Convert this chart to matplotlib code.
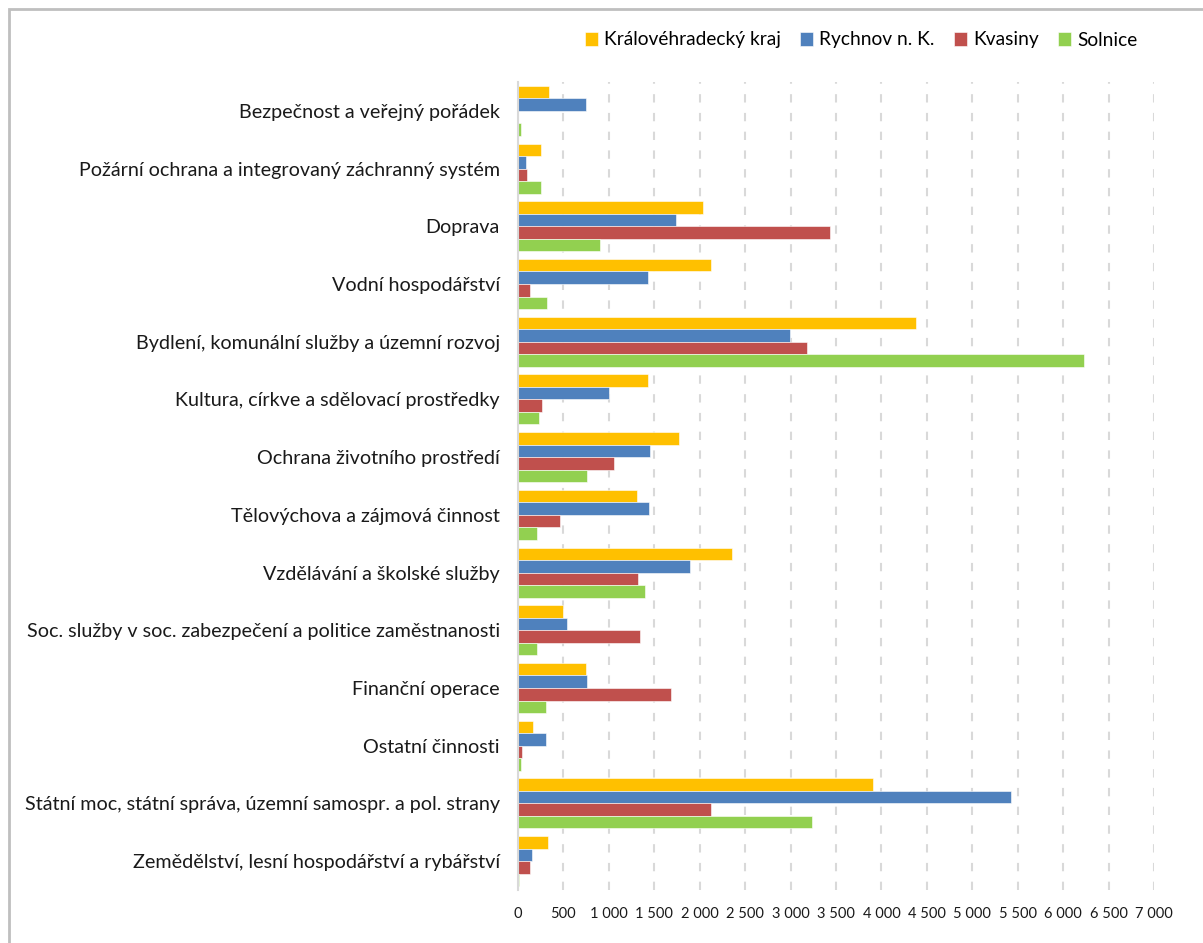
import matplotlib
matplotlib.use("Agg")
import matplotlib.pyplot as plt
from matplotlib.patches import Rectangle
from matplotlib.ticker import FuncFormatter, MultipleLocator
import numpy as np

plt.rcParams["font.family"] = ["Lato", "DejaVu Sans"]

# categories, top to bottom as in the chart
categories = [
    "Bezpečnost a veřejný pořádek",
    "Požární ochrana a integrovaný záchranný systém",
    "Doprava",
    "Vodní hospodářství",
    "Bydlení, komunální služby a územní rozvoj",
    "Kultura, církve a sdělovací prostředky",
    "Ochrana životního prostředí",
    "Tělovýchova a zájmová činnost",
    "Vzdělávání a školské služby",
    "Soc. služby v soc. zabezpečení a politice zaměstnanosti",
    "Finanční operace",
    "Ostatní činnosti",
    "Státní moc, státní správa, územní samospr. a pol. strany",
    "Zemědělství, lesní hospodářství a rybářství",
]

series_names = ["Královéhradecký kraj", "Rychnov n. K.", "Kvasiny", "Solnice"]

kraj = [345, 255, 2032, 2126, 4378, 1434, 1776, 1310, 2357, 496, 749, 165, 3908, 329]
rychnov = [749, 92, 1742, 1428, 2991, 1007, 1457, 1439, 1894, 536, 756, 305, 5425, 152]
kvasiny = [0, 95, 3430, 128, 3180, 262, 1061, 462, 1322, 1340, 1681, 44, 2119, 134]
solnice = [33, 258, 904, 322, 6227, 233, 763, 209, 1402, 209, 305, 35, 3232, 14]

colors = ["#FFC000", "#4F81BD", "#C0504D", "#92D050"]

###

W, H = 1203, 943
fig = plt.figure(figsize=(W / 100, H / 100), dpi=100)

# figure frame (only top and left edges visible in the original)
fig.patches.append(Rectangle((9 / W, -1), 2, 2 - 9 / H, transform=fig.transFigure,
                             fill=False, edgecolor="#BFBFBF", linewidth=2))

ax = fig.add_axes([518 / W, 1 - 890 / H, (1154 - 518) / W, (890 - 82) / H])

y = np.arange(len(categories))
h = 0.217
for i, (vals, name, c) in enumerate(zip([kraj, rychnov, kvasiny, solnice],
                                        series_names, colors)):
    ax.barh(y + (i - 1.5) * h, vals, height=h, color=c, label=name,
            edgecolor="white", linewidth=0.4, zorder=3)

ax.set_ylim(len(categories) - 0.5, -0.5)
ax.set_xlim(0, 7000)
ax.xaxis.set_major_locator(MultipleLocator(500))
ax.xaxis.set_major_formatter(FuncFormatter(lambda v, p: f"{int(v):,}".replace(",", " ")))

ax.set_yticks(y)
ax.set_yticklabels(categories, fontsize=14.2, color="#1a1a1a")
ax.tick_params(axis="y", length=0, pad=13)
ax.tick_params(axis="x", length=0, pad=12, labelsize=10.5, colors="#1a1a1a")

ax.grid(axis="x", color="#D9D9D9", linewidth=1.5, linestyle=(0, (4, 5)), zorder=0)
for s in ["top", "right", "bottom"]:
    ax.spines[s].set_visible(False)
ax.spines["left"].set_color("#D9D9D9")
ax.spines["left"].set_linewidth(1.5)
ax.spines["left"].set_zorder(4)

fig.legend(loc="center", bbox_to_anchor=(861 / W, 1 - 40 / H), ncol=4,
           frameon=False, fontsize=13.8, handlelength=0.7, handleheight=0.7,
           handletextpad=0.3, columnspacing=1.0, borderaxespad=0)

fig.savefig("out.png", dpi=100)
